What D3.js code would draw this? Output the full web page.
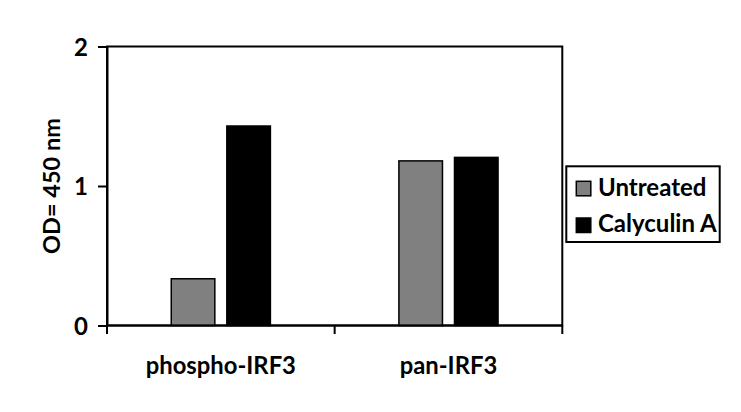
<!DOCTYPE html>
<html>
<head>
<meta charset="utf-8">
<script src="https://cdn.jsdelivr.net/npm/d3@7"></script>
<style>
  html, body { margin: 0; padding: 0; background: #fff; }
  text { font-family: Lato, "Open Sans", sans-serif; font-weight: bold; fill: #000; }
</style>
</head>
<body>
<div id="chart"></div>
<script>
// data
const categories = ['phospho-IRF3', 'pan-IRF3'];
const seriesNames = ['Untreated', 'Calyculin A'];
const untreated = [0.335, 1.18];
const calyculinA = [1.43, 1.205];
const yTicks = [0, 1, 2];
const seriesColors = ['#808080', '#000000'];

const width = 741, height = 412;
const margin = { top: 46.5, right: 178.7, bottom: 86.5, left: 107 };
const innerW = width - margin.left - margin.right;
const innerH = height - margin.top - margin.bottom;

const rows = categories.map((c, i) => ({ cat: c, values: [untreated[i], calyculinA[i]] }));

const svg = d3.select('#chart').append('svg')
    .attr('width', width)
    .attr('height', height);

const chart = svg.append('g')
    .attr('transform', `translate(${margin.left},${margin.top})`);

const x0 = d3.scaleBand().domain(categories).range([0, innerW]).padding(0);
const x1 = d3.scaleBand().domain(seriesNames).range([0, x0.bandwidth()])
    .paddingInner(0.216).paddingOuter(1.156);
const y = d3.scaleLinear().domain([0, 2]).range([innerH, 0]);

// plot frame
chart.append('rect')
    .attr('width', innerW)
    .attr('height', innerH)
    .attr('fill', 'none')
    .attr('stroke', '#000')
    .attr('stroke-width', 2);

// bars
const groups = chart.selectAll('g.group')
    .data(rows)
    .enter().append('g')
    .attr('class', 'group')
    .attr('transform', d => `translate(${x0(d.cat)},0)`);

groups.selectAll('rect')
    .data(d => d.values.map((v, i) => ({ key: seriesNames[i], v: v, i: i })))
    .enter().append('rect')
    .attr('x', d => x1(d.key))
    .attr('y', d => y(d.v))
    .attr('width', x1.bandwidth())
    .attr('height', d => innerH - y(d.v))
    .attr('fill', d => seriesColors[d.i])
    .attr('stroke', '#000')
    .attr('stroke-width', 1.5);

// y axis
const yAxis = d3.axisLeft(y).tickValues(yTicks).tickFormat(d3.format('d'))
    .tickSize(9).tickPadding(10).tickSizeOuter(0);
const yAxisG = chart.append('g').call(yAxis);
yAxisG.select('.domain').attr('stroke-width', 2);
yAxisG.selectAll('.tick line').attr('stroke-width', 2);
yAxisG.selectAll('.tick text')
    .style('font-size', '24px')
    .attr('dy', '0.36em');

// x axis: ticks at band boundaries
const xAxisG = chart.append('g').attr('transform', `translate(0,${innerH})`);
xAxisG.append('line')
    .attr('x1', 0).attr('x2', innerW)
    .attr('stroke', '#000').attr('stroke-width', 2);
const bounds = categories.map(c => x0(c)).concat([innerW]);
xAxisG.selectAll('line.tick')
    .data(bounds)
    .enter().append('line')
    .attr('class', 'tick')
    .attr('x1', d => d).attr('x2', d => d)
    .attr('y1', 0).attr('y2', 8.5)
    .attr('stroke', '#000').attr('stroke-width', 2);
xAxisG.selectAll('text')
    .data(categories)
    .enter().append('text')
    .attr('x', d => x0(d) + x0.bandwidth() / 2)
    .attr('y', 48)
    .attr('text-anchor', 'middle')
    .style('font-size', '23.8px')
    .text(d => d);

// y axis title
svg.append('text')
    .attr('transform', `translate(59.5,${margin.top + innerH / 2}) rotate(-90)`)
    .attr('text-anchor', 'middle')
    .style('font-size', '23.5px')
    .text('OD= 450 nm');

// legend
const legend = svg.append('g').attr('transform', 'translate(566.3,166.3)');
legend.append('rect')
    .attr('width', 153.4).attr('height', 75.7)
    .attr('fill', '#fff').attr('stroke', '#000').attr('stroke-width', 2);
const items = legend.selectAll('g.item')
    .data(seriesNames)
    .enter().append('g')
    .attr('class', 'item')
    .attr('transform', (d, i) => `translate(0,${i * 36.7})`);
items.append('rect')
    .attr('x', 10).attr('y', 15)
    .attr('width', 14.5).attr('height', 14.5)
    .attr('fill', (d, i) => seriesColors[i])
    .attr('stroke', '#000').attr('stroke-width', 1.5);
items.append('text')
    .attr('x', 31.7).attr('y', 29.4)
    .style('font-size', '24px')
    .text(d => d);
</script>
</body>
</html>
